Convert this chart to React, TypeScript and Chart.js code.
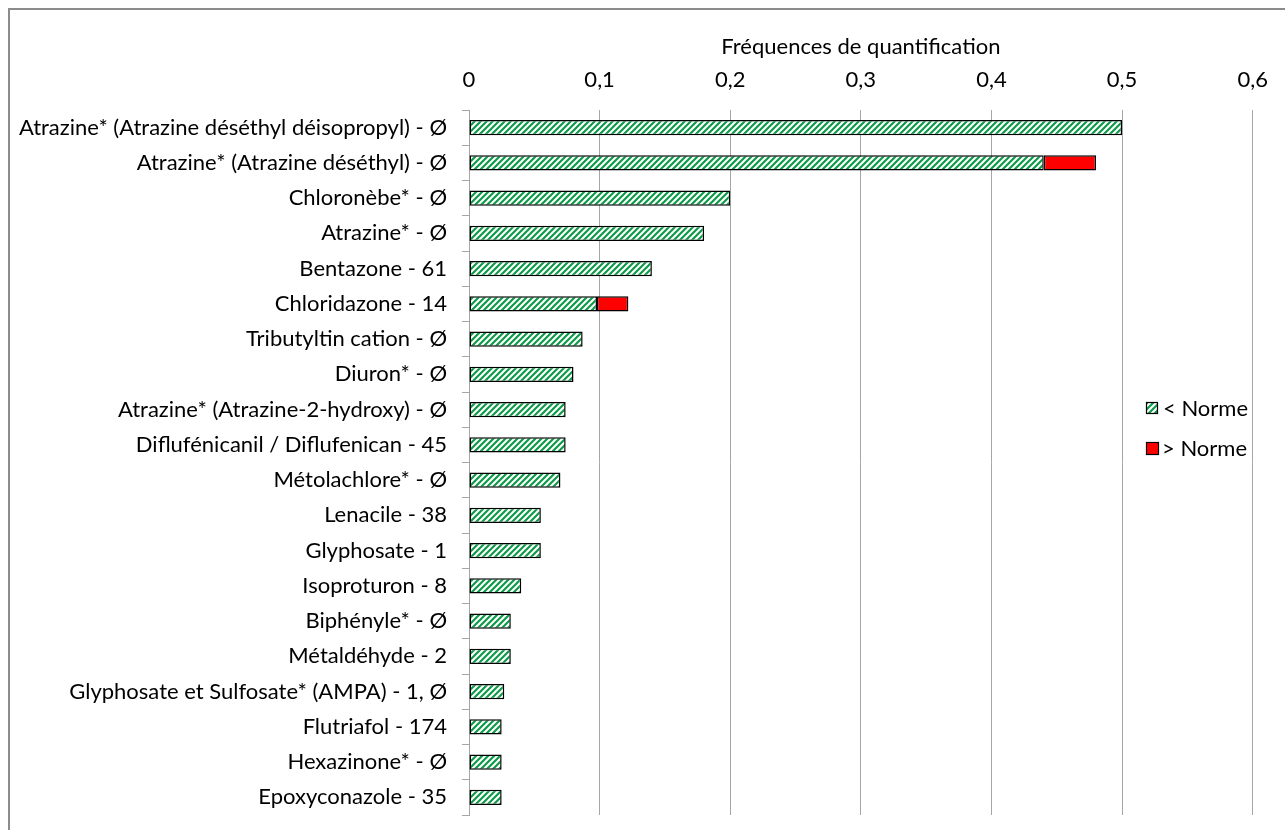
import React, { useEffect, useRef } from "react";
import { Chart, registerables } from "chart.js";
Chart.register(...registerables);

const categories = [
  "Atrazine* (Atrazine déséthyl déisopropyl) - Ø",
  "Atrazine* (Atrazine déséthyl) - Ø",
  "Chloronèbe* - Ø",
  "Atrazine* - Ø",
  "Bentazone - 61",
  "Chloridazone - 14",
  "Tributyltin cation - Ø",
  "Diuron* - Ø",
  "Atrazine* (Atrazine-2-hydroxy) - Ø",
  "Diflufénicanil / Diflufenican - 45",
  "Métolachlore* - Ø",
  "Lenacile - 38",
  "Glyphosate - 1",
  "Isoproturon - 8",
  "Biphényle* - Ø",
  "Métaldéhyde - 2",
  "Glyphosate et Sulfosate* (AMPA) - 1, Ø",
  "Flutriafol - 174",
  "Hexazinone* - Ø",
  "Epoxyconazole - 35",
];
const belowNorm = [0.5, 0.44, 0.2, 0.18, 0.14, 0.098, 0.087, 0.08, 0.074, 0.074, 0.07, 0.055, 0.055, 0.04, 0.032, 0.032, 0.027, 0.025, 0.025, 0.025];
const aboveNorm = [0, 0.04, 0, 0, 0, 0.024, 0, 0, 0, 0, 0, 0, 0, 0, 0, 0, 0, 0, 0, 0];
const seriesNames = ["< Norme", "> Norme"];
const axisTitle = "Fréquences de quantification";
const xMin = 0;
const xMax = 0.6;
const xStep = 0.1;

const FONT = "Lato, 'Open Sans', sans-serif";
const FS = 22;
const GREEN = "#0f9a4a";

function makePattern(): CanvasPattern | string {
  const c = document.createElement("canvas");
  const s = 6;
  c.width = s;
  c.height = s;
  const ctx = c.getContext("2d");
  if (!ctx) return GREEN;
  ctx.fillStyle = "#ffffff";
  ctx.fillRect(0, 0, s, s);
  ctx.strokeStyle = GREEN;
  ctx.lineWidth = 2.2;
  ctx.beginPath();
  ctx.moveTo(-s, s * 2);
  ctx.lineTo(s * 2, -s);
  ctx.moveTo(-s * 2, s * 2);
  ctx.lineTo(s, -s);
  ctx.moveTo(0, s * 2);
  ctx.lineTo(s * 3, -s);
  ctx.stroke();
  const p = ctx.createPattern(c, "repeat");
  return p || GREEN;
}

export default function App() {
  const ref = useRef<HTMLCanvasElement | null>(null);
  useEffect(() => {
    if (!ref.current) return;
    const pattern = makePattern();
    const legendPlugin = {
      id: "customLegend",
      afterDraw(chart: any) {
        const ctx = chart.ctx as CanvasRenderingContext2D;
        ctx.save();
        const items = [
          { fill: pattern, x: 1136, y: 392, size: 12, tx: 1153, ty: 399 },
          { fill: "#ff0000", x: 1136, y: 432, size: 13, tx: 1152, ty: 439 },
        ];
        items.forEach((it, i) => {
          ctx.fillStyle = it.fill as any;
          ctx.fillRect(it.x, it.y, it.size, it.size);
          ctx.strokeStyle = "#000";
          ctx.lineWidth = 1.2;
          ctx.strokeRect(it.x + 0.5, it.y + 0.5, it.size - 1, it.size - 1);
          ctx.fillStyle = "#000";
          ctx.font = `${FS}px ${FONT}`;
          ctx.textBaseline = "middle";
          ctx.textAlign = "left";
          ctx.fillText(seriesNames[i], it.tx, it.ty);
        });
        ctx.restore();
      },
    };
    const chart = new Chart(ref.current, {
      type: "bar",
      data: {
        labels: categories,
        datasets: [
          {
            label: seriesNames[0],
            data: belowNorm,
            backgroundColor: pattern as any,
            borderColor: "#000",
            borderWidth: 1.5,
            borderSkipped: false,
            barPercentage: 0.43,
            categoryPercentage: 1,
          },
          {
            label: seriesNames[1],
            data: aboveNorm,
            backgroundColor: "#ff0000",
            borderColor: "#000",
            borderWidth: 1.5,
            borderSkipped: false,
            barPercentage: 0.43,
            categoryPercentage: 1,
          },
        ],
      },
      options: {
        indexAxis: "y",
        animation: false,
        responsive: false,
        maintainAspectRatio: false,
        layout: { padding: { left: 0, right: 28, top: 0, bottom: 15 } },
        plugins: { legend: { display: false }, tooltip: { enabled: false } },
        scales: {
          x: {
            position: "top",
            stacked: true,
            min: xMin,
            max: xMax,
            ticks: {
              stepSize: xStep,
              color: "#000",
              font: { family: FONT, size: FS },
              padding: 17,
              callback: (v: any) => (Number(v) === 0 ? "0" : Number(v).toFixed(1).replace(".", ",")),
            },
            grid: { color: "#a6a6a6", lineWidth: 1, drawTicks: false },
            border: { display: false },
            title: {
              display: true,
              text: axisTitle,
              color: "#000",
              font: { family: FONT, size: FS },
              padding: { top: 24, bottom: 0 },
            },
            afterFit: (s: any) => {
              s.height = 100;
            },
          },
          y: {
            stacked: true,
            ticks: {
              color: "#000",
              font: { family: FONT, size: FS },
              padding: 15,
              autoSkip: false,
            },
            grid: { drawOnChartArea: false, offset: true, tickLength: 7, color: "#a6a6a6" },
            border: { display: true, color: "#a6a6a6" },
            afterFit: (s: any) => {
              s.width = 459;
              s.paddingTop = 0;
              s.paddingBottom = 0;
            },
          },
        },
      },
      plugins: [legendPlugin],
    });
    return () => chart.destroy();
  }, []);
  return (
    <div
      style={{
        position: "absolute",
        left: 8,
        top: 8,
        width: 1277,
        height: 822,
        borderTop: "2px solid #8c8c8c",
        borderLeft: "2px solid #8c8c8c",
        overflow: "hidden",
        background: "#fff",
      }}
    >
      <canvas ref={ref} width={1275} height={820} style={{ display: "block", width: 1275, height: 820 }} />
    </div>
  );
}
